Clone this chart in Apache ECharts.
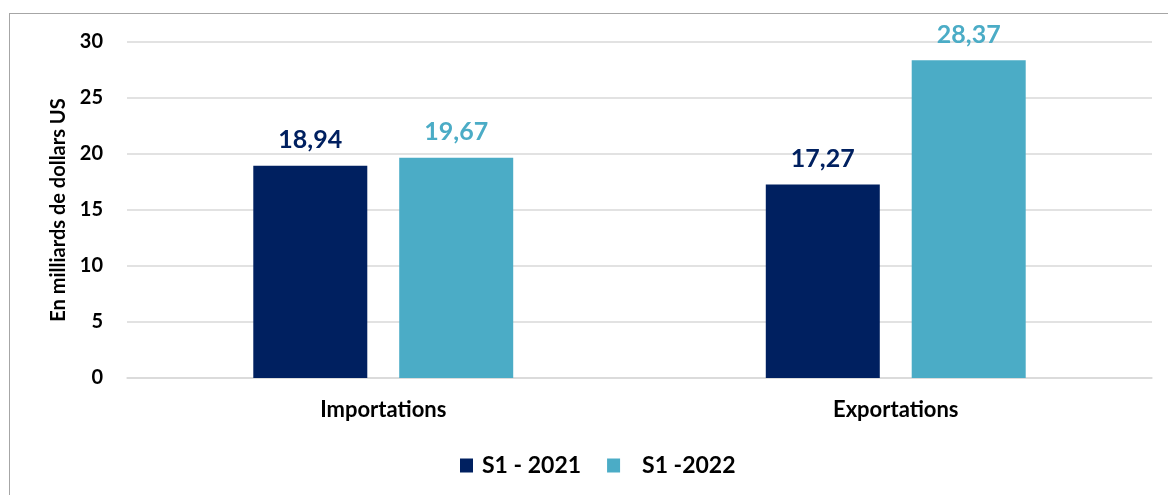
<!DOCTYPE html>
<html>
<head>
<meta charset="utf-8">
<script src="https://cdn.jsdelivr.net/npm/echarts@6/dist/echarts.min.js"></script>
<style>
  html, body { margin: 0; padding: 0; background: #fff; }
  #frame { position: absolute; left: 9px; top: 13px; width: 1180px; height: 500px; border: 1px solid #a6a6a6; }
  #chart { position: absolute; left: 0; top: 0; width: 1168px; height: 495px; }
</style>
</head>
<body>
<div id="frame"></div>
<div id="chart"></div>
<script>
// données
const categories = ['Importations', 'Exportations'];
const s2021 = [18.94, 17.27];
const s2022 = [19.67, 28.37];
const seriesNames = ['S1 - 2021', 'S1 -2022'];

const myChart = echarts.init(document.getElementById('chart'));
const font = 'Lato, "Open Sans", sans-serif';
const fmt = p => p.value.toFixed(2).replace('.', ',');

const option = {
  animation: false,
  textStyle: { fontFamily: font },
  grid: { left: 127, right: 16, top: 42, bottom: 117 },
  legend: {
    bottom: 13,
    left: 455,
    itemWidth: 13,
    itemHeight: 14,
    itemGap: 26,
    icon: 'rect',
    textStyle: { fontSize: 23, fontWeight: 'bold', color: '#000', fontFamily: font },
    data: [
      { name: seriesNames[0], textStyle: { padding: [0, 0, 0, 4] } },
      { name: seriesNames[1], textStyle: { padding: [0, 0, 0, 17] } }
    ]
  },
  xAxis: {
    type: 'category',
    data: categories,
    axisLine: { lineStyle: { color: '#d9d9d9', width: 1.5 } },
    axisTick: { show: false },
    axisLabel: { fontSize: 22, fontWeight: 'bold', color: '#000', margin: 21 }
  },
  yAxis: {
    type: 'value',
    min: 0,
    max: 30,
    interval: 5,
    name: 'En milliards de dollars US',
    nameLocation: 'middle',
    nameGap: 58,
    nameTextStyle: { fontSize: 20, fontWeight: 'bold', color: '#000' },
    axisLine: { show: false },
    axisTick: { show: false },
    axisLabel: { fontSize: 20, fontWeight: 'bold', color: '#000', margin: 24 },
    splitLine: { lineStyle: { color: '#d9d9d9', width: 1.5 } }
  },
  series: [
    {
      name: seriesNames[0],
      type: 'bar',
      data: s2021,
      barWidth: 114,
      barGap: '28%',
      itemStyle: { color: '#002060' },
      label: { show: true, position: 'top', distance: 13, formatter: fmt, fontSize: 25, fontWeight: 'bold', color: '#002060' }
    },
    {
      name: seriesNames[1],
      type: 'bar',
      data: s2022,
      barWidth: 114,
      itemStyle: { color: '#4bacc6' },
      label: { show: true, position: 'top', distance: 13, formatter: fmt, fontSize: 25, fontWeight: 'bold', color: '#4bacc6' }
    }
  ]
};

myChart.setOption(option);
</script>
</body>
</html>
